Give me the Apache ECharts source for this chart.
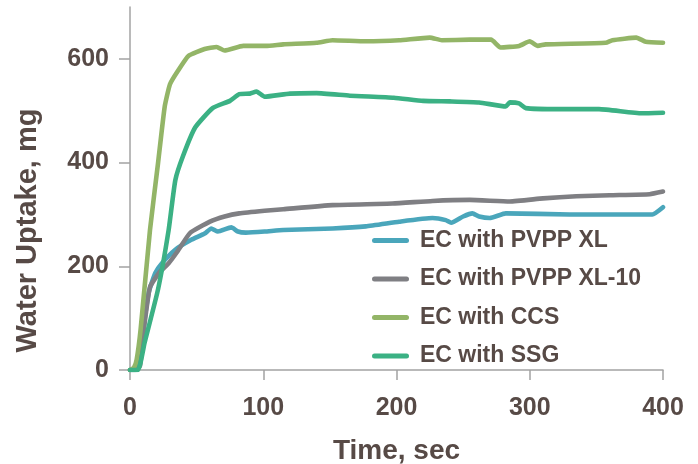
<!DOCTYPE html>
<html>
<head>
<meta charset="utf-8">
<script src="https://cdn.jsdelivr.net/npm/echarts@6/dist/echarts.min.js"></script>
<style>
  html, body { margin: 0; padding: 0; background: #fff; }
  #main { width: 698px; height: 464px; }
</style>
</head>
<body>
<div id="main"></div>
<script>
var seriesNames = ['EC with PVPP XL', 'EC with PVPP XL-10', 'EC with CCS', 'EC with SSG'];
var xTicks = [0, 100, 200, 300, 400];
var yTicks = [0, 200, 400, 600];

// [time sec, uptake mg]
var pvppXL = [[0,0],[5,0],[7,15],[10,79],[14,149],[19,187],[24,206],[34,232],[46,251],[56,263],[61,273],[66,267],[76,275],[81,267],[87,265],[101,267],[115,270],[152,273],[177,277],[202,286],[227,293],[237,289],[241,284],[250,296],[257,302],[262,296],[270,293],[282,302],[330,300],[392,300],[400,314]];
var pvppXL10 = [[0,0],[4,0],[7.5,8],[11,91],[15,160],[22,188],[29,206],[36,230],[45,264],[60,286],[71,296],[82,302],[101,307],[115,310],[152,318],[197,321],[227,326],[255,328],[285,325],[310,331],[335,335],[360,337],[390,339],[400,344]];
var ccs = [[0,0],[3,5],[5,20],[8,79],[15,270],[21,398],[26,507],[30,551],[36,577],[44,606],[56,619],[65,623],[71,616],[85,625],[102,625],[115,628],[140,631],[152,636],[177,634],[202,636],[225,641],[234,636],[255,637],[271,637],[278,622],[292,625],[300,634],[306,625],[312,628],[357,631],[362,636],[380,641],[387,633],[400,631]];
var ssg = [[0,0],[6,0],[11,53],[21,155],[29,270],[34,366],[40,414],[49,468],[62,505],[75,519],[82,532],[90,533],[95,537],[101,527],[120,533],[140,534],[165,529],[198,525],[220,519],[240,518],[262,516],[282,508],[285,516],[292,514],[297,505],[322,503],[352,503],[384,495],[400,496]];

var colors = ['#4aa6bb', '#7f7f83', '#93b567', '#3bb184'];
var textColor = '#574a46';
var axisColor = '#a3a3a3';

var chart = echarts.init(document.getElementById('main'));

var makeSeries = function (name, data, color) {
    return {
        name: name,
        type: 'line',
        data: data,
        showSymbol: false,
        symbol: 'none',
        smooth: 0.15,
        lineStyle: { width: 4.6, color: color, cap: 'round', join: 'round' },
        itemStyle: { color: color }
    };
};

var option = {
    animation: false,
    grid: { left: 130, right: 35, top: 7, bottom: 94, outerBoundsMode: 'none' },
    legend: {
        orient: 'vertical',
        left: 367,
        top: 224,
        itemWidth: 37,
        itemHeight: 5,
        itemGap: 15.5,
        icon: 'path://M2.5,0H34.5A2.5,2.5,0,0,1,34.5,5H2.5A2.5,2.5,0,0,1,2.5,0Z',
        textStyle: {
            fontFamily: 'Liberation Sans',
            fontWeight: 'bold',
            fontSize: 23,
            color: textColor,
            padding: [0, 0, 0, 6]
        },
        data: seriesNames
    },
    xAxis: {
        type: 'value',
        min: 0,
        max: 400,
        interval: 100,
        name: 'Time, sec',
        nameLocation: 'middle',
        nameGap: 67,
        nameTextStyle: { fontFamily: 'Liberation Sans', fontWeight: 'bold', fontSize: 28, color: textColor },
        axisLine: { show: true, lineStyle: { color: axisColor, width: 1.5 } },
        axisTick: { show: true, length: 10, lineStyle: { color: axisColor, width: 1.5 }, customValues: xTicks },
        axisLabel: { margin: 26, fontFamily: 'Liberation Sans', fontWeight: 'bold', fontSize: 25, color: textColor, customValues: xTicks },
        splitLine: { show: false }
    },
    yAxis: {
        type: 'value',
        min: 0,
        max: 700,
        interval: 200,
        name: 'Water Uptake, mg',
        nameLocation: 'middle',
        nameGap: 88,
        nameTextStyle: { fontFamily: 'Liberation Sans', fontWeight: 'bold', fontSize: 29, color: textColor, padding: [0, 84, 0, 0] },
        axisLine: { show: true, lineStyle: { color: axisColor, width: 1.5 } },
        axisTick: { show: true, length: 11, lineStyle: { color: axisColor, width: 1.5 }, customValues: yTicks },
        axisLabel: { margin: 21, fontFamily: 'Liberation Sans', fontWeight: 'bold', fontSize: 25, color: textColor, customValues: yTicks },
        splitLine: { show: false }
    },
    series: [
        makeSeries(seriesNames[0], pvppXL, colors[0]),
        makeSeries(seriesNames[1], pvppXL10, colors[1]),
        makeSeries(seriesNames[2], ccs, colors[2]),
        makeSeries(seriesNames[3], ssg, colors[3])
    ]
};

chart.setOption(option);
</script>
</body>
</html>
